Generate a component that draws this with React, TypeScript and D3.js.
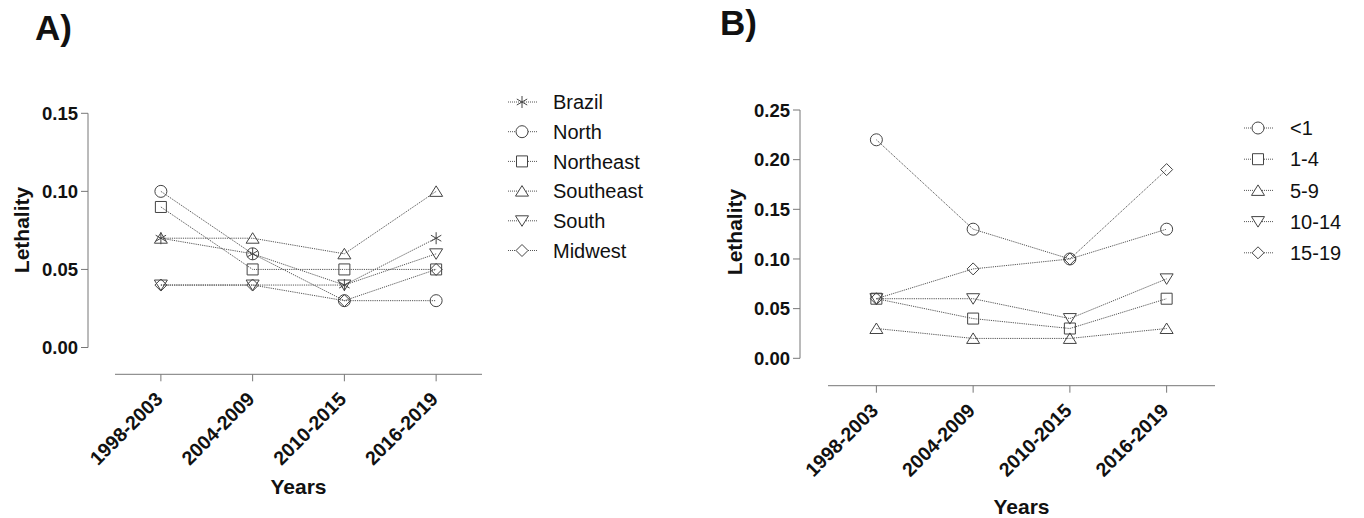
import React, { useEffect, useRef } from "react";
import * as d3 from "d3";

// periods on the x axis (shared by both panels)
const years = ["1998-2003", "2004-2009", "2010-2015", "2016-2019"];

// panel A - regions
const regionNames = ["Brazil", "North", "Northeast", "Southeast", "South", "Midwest"];
const regionSymbols = ["asterisk", "circle", "square", "triangle", "triangleDown", "diamond"];
const brazil = [0.07, 0.06, 0.04, 0.07];
const north = [0.10, 0.06, 0.03, 0.03];
const northeast = [0.09, 0.05, 0.05, 0.05];
const southeast = [0.07, 0.07, 0.06, 0.10];
const south = [0.04, 0.04, 0.04, 0.06];
const midwest = [0.04, 0.04, 0.03, 0.05];
const regionTicks = [0, 0.05, 0.10, 0.15];

// panel B - age groups
const ageNames = ["<1", "1-4", "5-9", "10-14", "15-19"];
const ageSymbols = ["circle", "square", "triangle", "triangleDown", "diamond"];
const under1 = [0.22, 0.13, 0.10, 0.13];
const age1to4 = [0.06, 0.04, 0.03, 0.06];
const age5to9 = [0.03, 0.02, 0.02, 0.03];
const age10to14 = [0.06, 0.06, 0.04, 0.08];
const age15to19 = [0.06, 0.09, 0.10, 0.19];
const ageTicks = [0, 0.05, 0.10, 0.15, 0.20, 0.25];

const FONT = "'Liberation Sans', Arial, Helvetica, sans-serif";
const INK = "#111";
const AXIS = "#777";
const LINE = "#555";

function symbolPath(kind: string): string {
    switch (kind) {
        case "circle":
            return "M-6,0A6,6 0 1,0 6,0A6,6 0 1,0 -6,0Z";
        case "square":
            return "M-5.5,-5.5H5.5V5.5H-5.5Z";
        case "triangle":
            return "M0,-5.5L6.5,5L-6.5,5Z";
        case "triangleDown":
            return "M0,5.5L6.5,-5L-6.5,-5Z";
        case "diamond":
            return "M0,-6L6,0L0,6L-6,0Z";
        default:
            // asterisk: vertical bar plus two diagonals
            return "M0,-6V6M-5.2,-3L5.2,3M-5.2,3L5.2,-3";
    }
}

const panelA = {
    title: "A)", titleX: 35, titleY: 40,
    names: regionNames, symbols: regionSymbols,
    values: [brazil, north, northeast, southeast, south, midwest],
    ticks: regionTicks, yMax: 0.15,
    yAxisX: 88, yTop: 113.3, yBottom: 347.5,
    xAxisY: 374.3, xLeft: 115, xRight: 482,
    yLabelX: 22, yLabelY: 230, xLabelY: 494,
    legendX: 522, legendTextX: 553, legendY0: 102, legendDy: 29.7
};

const panelB = {
    title: "B)", titleX: 720, titleY: 35,
    names: ageNames, symbols: ageSymbols,
    values: [under1, age1to4, age5to9, age10to14, age15to19],
    ticks: ageTicks, yMax: 0.25,
    yAxisX: 800, yTop: 110, yBottom: 358.3,
    xAxisY: 385.7, xLeft: 828, xRight: 1215,
    yLabelX: 735, yLabelY: 232, xLabelY: 514,
    legendX: 1258, legendTextX: 1290, legendY0: 128, legendDy: 31.2
};

function drawPanel(svg: any, p: any) {
    const g = svg.append("g");

    const x = d3.scalePoint<string>()
        .domain(years)
        .range([p.xLeft, p.xRight])
        .padding(0.5);

    const y = d3.scaleLinear()
        .domain([0, p.yMax])
        .range([p.yBottom, p.yTop]);

    // title
    g.append("text")
        .attr("x", p.titleX)
        .attr("y", p.titleY)
        .attr("font-size", 35)
        .attr("font-weight", "bold")
        .attr("fill", INK)
        .text(p.title);

    // y axis
    g.append("line")
        .attr("x1", p.yAxisX).attr("x2", p.yAxisX)
        .attr("y1", y(p.yMax)).attr("y2", y(0))
        .attr("stroke", AXIS);

    const yTick = g.selectAll(".ytick")
        .data(p.ticks)
        .enter()
        .append("g")
        .attr("class", "ytick")
        .attr("transform", (d: number) => `translate(${p.yAxisX}, ${y(d)})`);

    yTick.append("line")
        .attr("x1", -7).attr("x2", 0)
        .attr("stroke", AXIS);

    yTick.append("text")
        .attr("x", -10)
        .attr("dy", "0.36em")
        .attr("text-anchor", "end")
        .attr("font-size", 18.5)
        .attr("font-weight", "bold")
        .attr("fill", INK)
        .text((d: number) => d3.format(".2f")(d));

    g.append("text")
        .attr("transform", `translate(${p.yLabelX}, ${p.yLabelY}) rotate(-90)`)
        .attr("text-anchor", "middle")
        .attr("dy", "0.35em")
        .attr("font-size", 21)
        .attr("font-weight", "bold")
        .attr("fill", INK)
        .text("Lethality");

    // x axis
    g.append("line")
        .attr("x1", p.xLeft).attr("x2", p.xRight)
        .attr("y1", p.xAxisY).attr("y2", p.xAxisY)
        .attr("stroke", AXIS);

    const xTick = g.selectAll(".xtick")
        .data(years)
        .enter()
        .append("g")
        .attr("class", "xtick")
        .attr("transform", (d: string) => `translate(${x(d)}, ${p.xAxisY})`);

    xTick.append("line")
        .attr("y1", 0).attr("y2", 7)
        .attr("stroke", AXIS);

    xTick.append("text")
        .attr("transform", "translate(3, 26) rotate(-45)")
        .attr("text-anchor", "end")
        .attr("font-size", 19.5)
        .attr("font-weight", "bold")
        .attr("fill", INK)
        .text((d: string) => d);

    g.append("text")
        .attr("x", (p.xLeft + p.xRight) / 2)
        .attr("y", p.xLabelY)
        .attr("text-anchor", "middle")
        .attr("font-size", 21)
        .attr("font-weight", "bold")
        .attr("fill", INK)
        .text("Years");

    // series lines
    const line = d3.line<number>()
        .x((d, i) => x(years[i]) as number)
        .y(d => y(d));

    g.selectAll(".series")
        .data(p.values)
        .enter()
        .append("path")
        .attr("class", "series")
        .attr("d", (d: number[]) => line(d))
        .attr("fill", "none")
        .attr("stroke", LINE)
        .attr("stroke-width", 1)
        .attr("stroke-dasharray", "1.2,1");

    // markers
    p.values.forEach((vals: number[], s: number) => {
        g.selectAll(`.mark-${s}`)
            .data(vals)
            .enter()
            .append("path")
            .attr("class", `mark-${s}`)
            .attr("transform", (d: number, i: number) => `translate(${x(years[i])}, ${y(d)})`)
            .attr("d", symbolPath(p.symbols[s]))
            .attr("fill", "none")
            .attr("stroke", "#444")
            .attr("stroke-width", 1);
    });

    // legend
    const leg = g.selectAll(".legend")
        .data(p.names)
        .enter()
        .append("g")
        .attr("class", "legend")
        .attr("transform", (d: string, i: number) => `translate(${p.legendX}, ${p.legendY0 + i * p.legendDy})`);

    leg.append("line")
        .attr("x1", -14).attr("x2", 15)
        .attr("stroke", LINE)
        .attr("stroke-dasharray", "1,1");

    leg.append("path")
        .attr("d", (d: string, i: number) => symbolPath(p.symbols[i]))
        .attr("fill", "white")
        .attr("stroke", "#444");

    leg.append("text")
        .attr("x", p.legendTextX - p.legendX)
        .attr("dy", "0.36em")
        .attr("font-size", 20)
        .attr("fill", INK)
        .text((d: string) => d);
}

export default function App() {
    const ref = useRef<SVGSVGElement>(null);

    useEffect(() => {
        const svg = d3.select(ref.current);
        svg.selectAll("*").remove();
        svg.attr("font-family", FONT);
        drawPanel(svg, panelA);
        drawPanel(svg, panelB);
    }, []);

    return (
        <svg
            ref={ref}
            width={1364}
            height={518}
            style={{ position: "absolute", left: 0, top: 0, background: "white" }}
        />
    );
}
